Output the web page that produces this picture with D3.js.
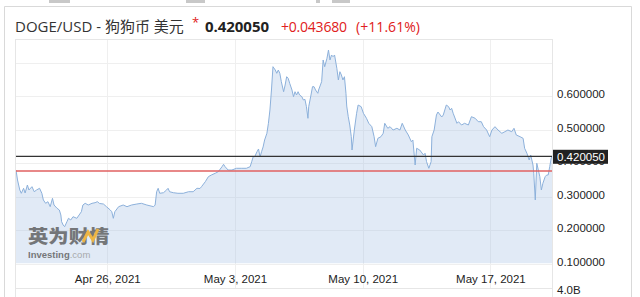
<!DOCTYPE html>
<html>
<head>
<meta charset="utf-8">
<script src="https://cdn.jsdelivr.net/npm/d3@7"></script>
<style>
  body { margin: 0; background: #fff; }
  svg text { font-family: Arial, "Liberation Sans", sans-serif; }
</style>
</head>
<body>
<div id="chart"></div>
<script>
var svgWidth = 640;
var svgHeight = 297;

// Series start (first candle) - hours are counted from here
var startTime = new Date(2021, 3, 21, 0, 0);

// hours after start
var hours = [
  0, 2, 5, 7, 10, 12, 15, 17, 21, 24,
  27, 31, 34, 36, 39, 42, 45, 48, 50, 54,
  57, 59, 60, 62, 64, 67, 69, 72, 75, 80,
  83, 86, 88, 91, 95, 100, 104, 107, 110, 115,
  119, 124, 126, 128, 130, 135, 141, 146, 152, 159,
  165, 172, 181, 183, 185, 187, 189, 194, 198, 200,
  202, 207, 213, 220, 227, 233, 238, 242, 244, 249,
  253, 257, 262, 266, 271, 273, 275, 279, 284, 290,
  297, 303, 308, 310, 312, 314, 317, 319, 321, 323,
  325, 327, 330, 332, 334, 335, 336, 338, 341, 343,
  345, 347, 349, 352, 354, 356, 358, 360, 363, 365,
  367, 369, 371, 373, 376, 378, 380, 382, 384, 385,
  388, 390, 392, 394, 397, 398, 402, 404, 406, 409,
  411, 413, 415, 417, 419, 422, 424, 426, 428, 430,
  432, 434, 435, 437, 439, 441, 442, 445, 448, 450,
  454, 457, 461, 464, 468, 471, 473, 476, 480, 483,
  485, 489, 492, 496, 501, 505, 508, 512, 516, 520,
  522, 525, 527, 531, 536, 538, 540, 543, 546, 547,
  550, 553, 555, 560, 562, 566, 569, 571, 573, 575,
  580, 582, 586, 590, 595, 599, 604, 608, 612, 615,
  619, 623, 626, 630, 634, 639, 643, 647, 652, 655,
  658, 663, 667, 669, 672, 675, 677, 680, 681, 683,
  685, 687, 689, 691, 693, 696, 698, 700, 702, 704,
  705
];

// DOGE/USD price at each of those hours
var prices = [
  .3791, .3493, .3194, .3096, .3245, .3104, .3343, .3194, .3293, .3143,
  .3194, .3245, .3096, .2896, .2797, .2845, .2696, .2946, .2746, .2648,
  .2597, .2448, .2248, .2149, .2099, .2248, .2349, .2299, .2397, .2349,
  .2448, .2546, .2746, .2797, .2746, .2797, .2815, .2845, .2791, .2776,
  .2696, .2597, .2546, .2349, .2546, .2696, .2746, .2696, .2746, .2776,
  .2797, .2746, .2696, .2746, .3143, .3245, .3096, .3113, .3194, .3245,
  .3143, .3113, .3096, .3096, .3143, .3143, .3245, .3239, .3293, .3442,
  .3591, .3642, .3693, .3740, .3890, .3961, .3890, .3791, .3791, .3842,
  .3842, .3842, .3890, .4039, .4188, .4188, .4337, .4418, .4179, .4337,
  .4478, .4687, .4887, .5185, .5582, .5881, .6179, .6875, .6776, .6678,
  .6776, .6678, .6427, .6128, .6328, .6576, .6528, .6379, .6179, .5979,
  .6128, .6030, .6128, .6030, .5979, .5881, .5901, .5681, .5334, .5681,
  .6030, .6278, .6278, .6179, .6081, .6179, .6427, .7075, .6875, .7125,
  .7373, .7075, .7224, .7173, .7224, .6827, .6478, .6725, .6627, .6478,
  .6576, .6081, .5701, .5382, .5134, .4785, .4388, .4985, .5484, .5731,
  .5681, .5484, .5334, .5185, .5084, .4785, .4487, .4737, .4785, .4887,
  .5185, .5036, .5084, .4985, .5036, .4985, .5185, .4985, .4836, .4636,
  .4687, .3940, .4439, .4388, .4239, .4290, .4039, .3842, .4039, .4785,
  .4985, .5433, .5522, .5373, .5433, .5731, .5681, .5582, .5633, .5484,
  .5185, .5233, .5134, .5185, .5134, .5382, .5334, .5233, .5233, .5084,
  .4985, .4785, .4985, .5084, .4985, .4887, .4934, .4985, .4934, .5036,
  .4836, .4785, .4737, .4439, .4290, .4090, .4239, .3940, .3693, .2896,
  .3991, .3791, .3591, .3194, .3394, .3591, .3642, .3642, .3890, .4149,
  .42005
];

var lastPrice = 0.42005;
var prevClose = 0.37637;
var priceChange = "+0.043680";
var pctChange = "(+11.61%)";

var dateTicks = [new Date(2021, 3, 26), new Date(2021, 4, 3), new Date(2021, 4, 10), new Date(2021, 4, 17)];
var gridPrices = [0.1, 0.2, 0.3, 0.4, 0.5, 0.6, 0.7];
var labelPrices = [0.1, 0.2, 0.3, 0.4, 0.5, 0.6];
var volumeLabel = "4.0B";

var series = hours.map(function(h, i) {
  return { date: d3.timeHour.offset(startTime, h), price: prices[i] };
});

var plot = { left: 16, right: 552, top: 40, bottom: 263.5 };

var svg = d3.select("#chart")
  .append("svg")
  .attr("width", svgWidth)
  .attr("height", svgHeight);

// outer panel frame + the bottoms of the tab buttons above it
svg.append("path")
  .attr("d", "M4.5,297 V6.5 H631.5 V297")
  .attr("fill", "none")
  .attr("stroke", "#d9d9d9");
[[49, 21], [186, 19], [316, 4], [332, 18]].forEach(function(t) {
  svg.append("rect").attr("x", t[0]).attr("y", 0).attr("width", t[1]).attr("height", 3).attr("fill", "#c8c8c8");
});

// header - pieces pinned where they sit in the screenshot
var headerFont = "'Open Sans', 'Noto Sans CJK SC', sans-serif";
svg.append("text")
  .attr("x", 15).attr("y", 32)
  .attr("fill", "#333")
  .style("font-family", headerFont)
  .style("font-size", "15px")
  .text("DOGE/USD - 狗狗币 美元");
svg.append("text")
  .attr("x", 192).attr("y", 27)
  .attr("fill", "#e02020")
  .style("font-family", headerFont)
  .style("font-size", "13px")
  .text("*");
svg.append("text")
  .attr("x", 205).attr("y", 32)
  .attr("fill", "#222")
  .style("font-family", headerFont)
  .style("font-size", "15px")
  .style("font-weight", "bold")
  .attr("textLength", 64)
  .text(d3.format(".6f")(lastPrice));
svg.append("text")
  .attr("x", 281).attr("y", 32)
  .attr("fill", "#e02020")
  .style("font-family", headerFont)
  .style("font-size", "14px")
  .attr("textLength", 66)
  .text(priceChange);
svg.append("text")
  .attr("x", 356).attr("y", 32)
  .attr("fill", "#e02020")
  .style("font-family", headerFont)
  .style("font-size", "14px")
  .attr("textLength", 64)
  .text(pctChange);

// scales
var xScale = d3.scaleTime()
  .domain([startTime, series[series.length - 1].date])
  .range([plot.left, plot.right]);

var yScale = d3.scaleLinear()
  .domain([0.1, 0.6])
  .range([plot.bottom, 96]);

// chart panel border
svg.append("rect")
  .attr("x", plot.left - 0.5)
  .attr("y", plot.top - 0.5)
  .attr("width", plot.right - plot.left + 1)
  .attr("height", 297 - plot.top + 1)
  .attr("fill", "none")
  .attr("stroke", "#e6e6e6");

// grid lines
var grid = svg.append("g");
grid.selectAll(".hgrid")
  .data(gridPrices)
  .enter().append("line")
  .attr("x1", plot.left).attr("x2", plot.right)
  .attr("y1", d => Math.round(yScale(d)) + 0.5)
  .attr("y2", d => Math.round(yScale(d)) + 0.5)
  .attr("stroke", "#efefef");
grid.selectAll(".vgrid")
  .data(dateTicks)
  .enter().append("line")
  .attr("x1", d => Math.round(xScale(d)) + 0.5)
  .attr("x2", d => Math.round(xScale(d)) + 0.5)
  .attr("y1", plot.top).attr("y2", 288)
  .attr("stroke", "#efefef");

svg.append("clipPath").attr("id", "clip")
  .append("rect")
  .attr("x", plot.left).attr("y", plot.top)
  .attr("width", plot.right - plot.left)
  .attr("height", plot.bottom - plot.top);

var area = d3.area()
  .x(d => xScale(d.date))
  .y0(plot.bottom)
  .y1(d => yScale(d.price));

var line = d3.line()
  .x(d => xScale(d.date))
  .y(d => yScale(d.price));

var chartGroup = svg.append("g").attr("clip-path", "url(#clip)");

chartGroup.append("path")
  .datum(series)
  .attr("d", area)
  .attr("fill", "#a9c4e4")
  .attr("fill-opacity", 0.35);

chartGroup.append("path")
  .datum(series)
  .attr("d", line)
  .attr("fill", "none")
  .attr("stroke", "#8cb0da")
  .attr("stroke-width", 1);

// previous close (red) and last price (black)
svg.append("line")
  .attr("x1", plot.left).attr("x2", plot.right)
  .attr("y1", yScale(prevClose)).attr("y2", yScale(prevClose))
  .attr("stroke", "#e06060")
  .attr("stroke-width", 1.5);

svg.append("line")
  .attr("x1", plot.left).attr("x2", plot.right)
  .attr("y1", yScale(lastPrice)).attr("y2", yScale(lastPrice))
  .attr("stroke", "#333")
  .attr("stroke-width", 1.3);

// watermark
var wm = svg.append("g").attr("opacity", 0.8);
wm.append("text")
  .attr("transform", "translate(28,243) scale(1.13,1)")
  .style("font-family", "'Noto Sans CJK SC', sans-serif")
  .style("font-size", "18px")
  .style("font-weight", "900")
  .attr("fill", "#5a5a5a")
  .text("英为财情");
wm.append("path")
  .attr("d", "M83,242 L88,232 L93,240 L98,229")
  .attr("fill", "none")
  .attr("stroke", "#f0a818")
  .attr("stroke-width", 3);
var inv = wm.append("text")
  .attr("x", 28).attr("y", 258)
  .style("font-size", "9.5px");
inv.append("tspan").attr("fill", "#5a5a5a").style("font-weight", "bold").text("Investing");
inv.append("tspan").attr("fill", "#999").text(".com");

// x axis (dates)
var bottomAxis = d3.axisBottom(xScale)
  .tickValues(dateTicks)
  .tickSize(0)
  .tickFormat(d3.timeFormat("%b %-d, %Y"));

svg.append("g")
  .attr("transform", `translate(0, ${plot.bottom + 8})`)
  .call(bottomAxis)
  .call(g => g.select(".domain").remove())
  .selectAll("text")
  .attr("fill", "#222")
  .style("font-size", "11.5px");

svg.append("line")
  .attr("x1", plot.left).attr("x2", plot.right)
  .attr("y1", 288.5).attr("y2", 288.5)
  .attr("stroke", "#e6e6e6");

// right price axis
var rightAxis = d3.axisRight(yScale)
  .tickValues(labelPrices)
  .tickSize(0)
  .tickPadding(5)
  .tickFormat(d3.format(".6f"));

svg.append("g")
  .attr("transform", `translate(${plot.right}, -2)`)
  .call(rightAxis)
  .call(g => g.select(".domain").remove())
  .selectAll("text")
  .attr("fill", "#222")
  .style("font-size", "11.5px");

// last price tag (covers most of the 0.400000 label, as in the original)
var tagY = yScale(lastPrice);
svg.append("rect")
  .attr("x", plot.right + 1)
  .attr("y", tagY - 6.5)
  .attr("width", 55)
  .attr("height", 14)
  .attr("fill", "#222");
svg.append("text")
  .attr("x", plot.right + 5)
  .attr("y", tagY + 4.5)
  .attr("fill", "#fff")
  .style("font-size", "11.5px")
  .text(d3.format(".6f")(lastPrice));

// volume pane label (cut off by the bottom edge)
svg.append("text")
  .attr("x", plot.right + 5)
  .attr("y", 294)
  .attr("fill", "#222")
  .style("font-size", "11.5px")
  .text(volumeLabel);
</script>
</body>
</html>
